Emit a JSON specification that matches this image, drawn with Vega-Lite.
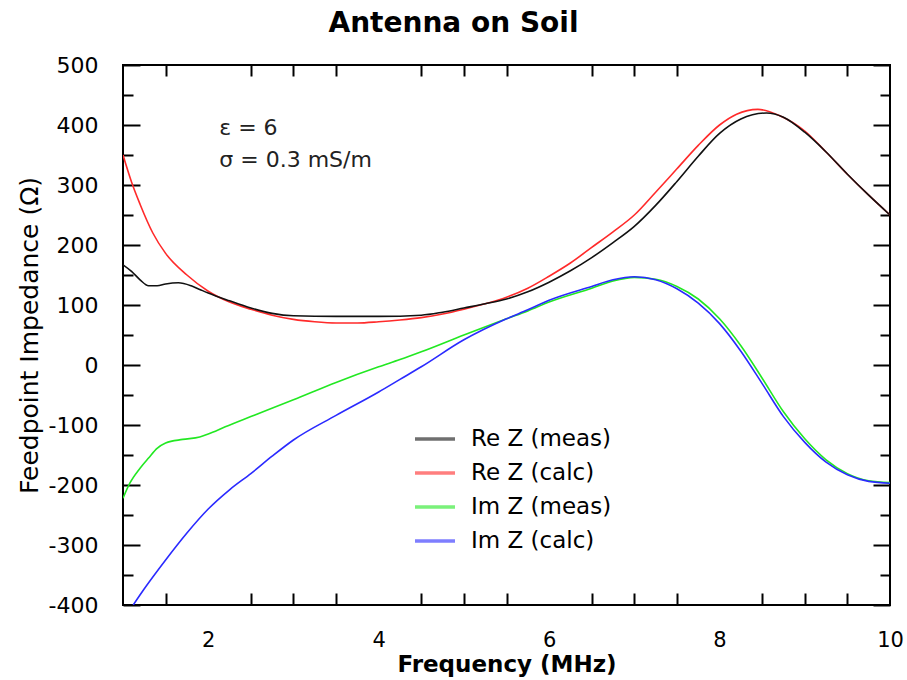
{
  "$schema": "https://vega.github.io/schema/vega-lite/v6.json",
  "autosize": {"type": "none"},
  "width": 767,
  "height": 540,
  "padding": {"left": 123, "top": 65, "right": 17, "bottom": 75},
  "title": {"text": "Antenna on Soil", "fontSize": 28, "fontWeight": "bold", "font": "DejaVu Sans", "offset": 16, "dx": -53, "color": "black"},
  "datasets": {
    "curves": [
      {"f": 1.0, "z": 350, "s": "Re Z (calc)"},
      {"f": 1.1, "z": 305, "s": "Re Z (calc)"},
      {"f": 1.2, "z": 268, "s": "Re Z (calc)"},
      {"f": 1.35, "z": 220, "s": "Re Z (calc)"},
      {"f": 1.5, "z": 186, "s": "Re Z (calc)"},
      {"f": 1.75, "z": 150, "s": "Re Z (calc)"},
      {"f": 2.0, "z": 123, "s": "Re Z (calc)"},
      {"f": 2.25, "z": 105, "s": "Re Z (calc)"},
      {"f": 2.5, "z": 93, "s": "Re Z (calc)"},
      {"f": 2.75, "z": 83, "s": "Re Z (calc)"},
      {"f": 3.0, "z": 76, "s": "Re Z (calc)"},
      {"f": 3.25, "z": 72, "s": "Re Z (calc)"},
      {"f": 3.5, "z": 70, "s": "Re Z (calc)"},
      {"f": 3.75, "z": 70, "s": "Re Z (calc)"},
      {"f": 4.0, "z": 72, "s": "Re Z (calc)"},
      {"f": 4.25, "z": 75, "s": "Re Z (calc)"},
      {"f": 4.5, "z": 79, "s": "Re Z (calc)"},
      {"f": 4.75, "z": 85, "s": "Re Z (calc)"},
      {"f": 5.0, "z": 93, "s": "Re Z (calc)"},
      {"f": 5.25, "z": 102, "s": "Re Z (calc)"},
      {"f": 5.5, "z": 113, "s": "Re Z (calc)"},
      {"f": 5.75, "z": 128, "s": "Re Z (calc)"},
      {"f": 6.0, "z": 148, "s": "Re Z (calc)"},
      {"f": 6.25, "z": 170, "s": "Re Z (calc)"},
      {"f": 6.5, "z": 196, "s": "Re Z (calc)"},
      {"f": 6.75, "z": 222, "s": "Re Z (calc)"},
      {"f": 7.0, "z": 250, "s": "Re Z (calc)"},
      {"f": 7.25, "z": 288, "s": "Re Z (calc)"},
      {"f": 7.5, "z": 327, "s": "Re Z (calc)"},
      {"f": 7.75, "z": 366, "s": "Re Z (calc)"},
      {"f": 8.0, "z": 400, "s": "Re Z (calc)"},
      {"f": 8.2, "z": 418, "s": "Re Z (calc)"},
      {"f": 8.45, "z": 426, "s": "Re Z (calc)"},
      {"f": 8.7, "z": 416, "s": "Re Z (calc)"},
      {"f": 9.0, "z": 390, "s": "Re Z (calc)"},
      {"f": 9.25, "z": 355, "s": "Re Z (calc)"},
      {"f": 9.5, "z": 318, "s": "Re Z (calc)"},
      {"f": 9.75, "z": 283, "s": "Re Z (calc)"},
      {"f": 10.0, "z": 250, "s": "Re Z (calc)"},

      {"f": 1.0, "z": 167, "s": "Re Z (meas)"},
      {"f": 1.1, "z": 156, "s": "Re Z (meas)"},
      {"f": 1.2, "z": 142, "s": "Re Z (meas)"},
      {"f": 1.3, "z": 132, "s": "Re Z (meas)"},
      {"f": 1.4, "z": 132, "s": "Re Z (meas)"},
      {"f": 1.5, "z": 135, "s": "Re Z (meas)"},
      {"f": 1.65, "z": 137, "s": "Re Z (meas)"},
      {"f": 1.8, "z": 132, "s": "Re Z (meas)"},
      {"f": 1.9, "z": 126, "s": "Re Z (meas)"},
      {"f": 2.0, "z": 120, "s": "Re Z (meas)"},
      {"f": 2.25, "z": 107, "s": "Re Z (meas)"},
      {"f": 2.5, "z": 95, "s": "Re Z (meas)"},
      {"f": 2.75, "z": 86, "s": "Re Z (meas)"},
      {"f": 3.0, "z": 82, "s": "Re Z (meas)"},
      {"f": 3.5, "z": 81, "s": "Re Z (meas)"},
      {"f": 4.0, "z": 81, "s": "Re Z (meas)"},
      {"f": 4.5, "z": 83, "s": "Re Z (meas)"},
      {"f": 4.75, "z": 88, "s": "Re Z (meas)"},
      {"f": 5.0, "z": 95, "s": "Re Z (meas)"},
      {"f": 5.25, "z": 102, "s": "Re Z (meas)"},
      {"f": 5.5, "z": 110, "s": "Re Z (meas)"},
      {"f": 5.75, "z": 122, "s": "Re Z (meas)"},
      {"f": 6.0, "z": 138, "s": "Re Z (meas)"},
      {"f": 6.25, "z": 157, "s": "Re Z (meas)"},
      {"f": 6.5, "z": 179, "s": "Re Z (meas)"},
      {"f": 6.75, "z": 204, "s": "Re Z (meas)"},
      {"f": 7.0, "z": 231, "s": "Re Z (meas)"},
      {"f": 7.25, "z": 266, "s": "Re Z (meas)"},
      {"f": 7.5, "z": 306, "s": "Re Z (meas)"},
      {"f": 7.75, "z": 348, "s": "Re Z (meas)"},
      {"f": 8.0, "z": 386, "s": "Re Z (meas)"},
      {"f": 8.25, "z": 410, "s": "Re Z (meas)"},
      {"f": 8.55, "z": 420, "s": "Re Z (meas)"},
      {"f": 8.75, "z": 413, "s": "Re Z (meas)"},
      {"f": 9.0, "z": 388, "s": "Re Z (meas)"},
      {"f": 9.25, "z": 355, "s": "Re Z (meas)"},
      {"f": 9.5, "z": 318, "s": "Re Z (meas)"},
      {"f": 9.75, "z": 283, "s": "Re Z (meas)"},
      {"f": 10.0, "z": 250, "s": "Re Z (meas)"},

      {"f": 1.0, "z": -222, "s": "Im Z (meas)"},
      {"f": 1.08, "z": -197, "s": "Im Z (meas)"},
      {"f": 1.2, "z": -172, "s": "Im Z (meas)"},
      {"f": 1.3, "z": -155, "s": "Im Z (meas)"},
      {"f": 1.4, "z": -139, "s": "Im Z (meas)"},
      {"f": 1.5, "z": -130, "s": "Im Z (meas)"},
      {"f": 1.7, "z": -124, "s": "Im Z (meas)"},
      {"f": 1.9, "z": -120, "s": "Im Z (meas)"},
      {"f": 2.0, "z": -115, "s": "Im Z (meas)"},
      {"f": 2.2, "z": -103, "s": "Im Z (meas)"},
      {"f": 2.5, "z": -86, "s": "Im Z (meas)"},
      {"f": 3.0, "z": -58, "s": "Im Z (meas)"},
      {"f": 3.5, "z": -29, "s": "Im Z (meas)"},
      {"f": 4.0, "z": -3, "s": "Im Z (meas)"},
      {"f": 4.25, "z": 9, "s": "Im Z (meas)"},
      {"f": 4.5, "z": 22, "s": "Im Z (meas)"},
      {"f": 5.0, "z": 50, "s": "Im Z (meas)"},
      {"f": 5.5, "z": 77, "s": "Im Z (meas)"},
      {"f": 5.75, "z": 90, "s": "Im Z (meas)"},
      {"f": 6.0, "z": 105, "s": "Im Z (meas)"},
      {"f": 6.5, "z": 128, "s": "Im Z (meas)"},
      {"f": 6.75, "z": 140, "s": "Im Z (meas)"},
      {"f": 7.0, "z": 146, "s": "Im Z (meas)"},
      {"f": 7.25, "z": 143, "s": "Im Z (meas)"},
      {"f": 7.5, "z": 131, "s": "Im Z (meas)"},
      {"f": 7.75, "z": 110, "s": "Im Z (meas)"},
      {"f": 8.0, "z": 77, "s": "Im Z (meas)"},
      {"f": 8.25, "z": 32, "s": "Im Z (meas)"},
      {"f": 8.5, "z": -22, "s": "Im Z (meas)"},
      {"f": 8.75, "z": -78, "s": "Im Z (meas)"},
      {"f": 9.0, "z": -123, "s": "Im Z (meas)"},
      {"f": 9.25, "z": -158, "s": "Im Z (meas)"},
      {"f": 9.5, "z": -181, "s": "Im Z (meas)"},
      {"f": 9.75, "z": -193, "s": "Im Z (meas)"},
      {"f": 10.0, "z": -196, "s": "Im Z (meas)"},

      {"f": 1.12, "z": -400, "s": "Im Z (calc)"},
      {"f": 1.25, "z": -373, "s": "Im Z (calc)"},
      {"f": 1.5, "z": -325, "s": "Im Z (calc)"},
      {"f": 1.75, "z": -280, "s": "Im Z (calc)"},
      {"f": 2.0, "z": -240, "s": "Im Z (calc)"},
      {"f": 2.25, "z": -208, "s": "Im Z (calc)"},
      {"f": 2.5, "z": -181, "s": "Im Z (calc)"},
      {"f": 2.75, "z": -152, "s": "Im Z (calc)"},
      {"f": 3.0, "z": -125, "s": "Im Z (calc)"},
      {"f": 3.5, "z": -84, "s": "Im Z (calc)"},
      {"f": 4.0, "z": -45, "s": "Im Z (calc)"},
      {"f": 4.25, "z": -24, "s": "Im Z (calc)"},
      {"f": 4.5, "z": -3, "s": "Im Z (calc)"},
      {"f": 5.0, "z": 42, "s": "Im Z (calc)"},
      {"f": 5.5, "z": 77, "s": "Im Z (calc)"},
      {"f": 5.75, "z": 92, "s": "Im Z (calc)"},
      {"f": 6.0, "z": 108, "s": "Im Z (calc)"},
      {"f": 6.5, "z": 131, "s": "Im Z (calc)"},
      {"f": 6.75, "z": 142, "s": "Im Z (calc)"},
      {"f": 7.0, "z": 147, "s": "Im Z (calc)"},
      {"f": 7.25, "z": 142, "s": "Im Z (calc)"},
      {"f": 7.5, "z": 127, "s": "Im Z (calc)"},
      {"f": 7.75, "z": 103, "s": "Im Z (calc)"},
      {"f": 8.0, "z": 69, "s": "Im Z (calc)"},
      {"f": 8.25, "z": 23, "s": "Im Z (calc)"},
      {"f": 8.5, "z": -31, "s": "Im Z (calc)"},
      {"f": 8.75, "z": -86, "s": "Im Z (calc)"},
      {"f": 9.0, "z": -129, "s": "Im Z (calc)"},
      {"f": 9.25, "z": -162, "s": "Im Z (calc)"},
      {"f": 9.5, "z": -183, "s": "Im Z (calc)"},
      {"f": 9.75, "z": -194, "s": "Im Z (calc)"},
      {"f": 10.0, "z": -197, "s": "Im Z (calc)"}
    ],
    "notes": [
      {"f": 2.13, "z": 395, "t": "ε = 6"},
      {"f": 2.13, "z": 342, "t": "σ = 0.3 mS/m"}
    ]
  },
  "layer": [
    {
      "data": {"name": "curves"},
      "mark": {"type": "line", "strokeWidth": 1.6, "interpolate": "monotone", "clip": true},
      "encoding": {
        "x": {
          "field": "f", "type": "quantitative",
          "scale": {"domain": [1, 10], "nice": false, "zero": false},
          "axis": {
            "orient": "bottom",
            "title": "Frequency (MHz)",
            "titleFontSize": 23, "titleFontWeight": "bold", "titleColor": "black", "titlePadding": 3,
            "values": [1.5, 2, 2.5, 3, 3.5, 4, 4.5, 5, 5.5, 6, 6.5, 7, 7.5, 8, 8.5, 9, 9.5, 10],
            "labelExpr": "datum.value % 2 === 0 ? '' + datum.value : ''",
            "labelFontSize": 21, "labelColor": "black", "labelFlush": false, "labelOverlap": false, "labelPadding": 36,
            "tickSize": -12, "tickWidth": 2, "tickColor": "black",
            "tickOpacity": {"condition": {"test": "datum.value % 2 === 0", "value": 0}, "value": 1},
            "grid": false, "domain": false
          }
        },
        "y": {
          "field": "z", "type": "quantitative",
          "scale": {"domain": [-400, 500], "nice": false, "zero": false},
          "axis": {
            "orient": "left",
            "title": "Feedpoint Impedance (Ω)",
            "titleFontSize": 25, "titleFontWeight": "normal", "titleColor": "black", "titlePadding": 6,
            "values": [-400, -350, -300, -250, -200, -150, -100, -50, 0, 50, 100, 150, 200, 250, 300, 350, 400, 450, 500],
            "labelExpr": "datum.value % 100 === 0 ? '' + datum.value : ''",
            "labelFontSize": 22, "labelColor": "black", "labelOverlap": false, "labelFlush": false, "labelPadding": 42,
            "tickSize": {"condition": {"test": "datum.value % 100 !== 0", "value": -10}, "value": -17},
            "tickWidth": 2, "tickColor": "black",
            "grid": false, "domain": false
          }
        },
        "color": {
          "field": "s", "type": "nominal",
          "scale": {
            "domain": ["Re Z (meas)", "Re Z (calc)", "Im Z (meas)", "Im Z (calc)"],
            "range": ["#111111", "#ff2a2a", "#22e822", "#2a2aff"]
          },
          "legend": {
            "orient": "none", "legendX": 290, "legendY": 352,
            "title": null,
            "symbolType": "stroke", "symbolStrokeWidth": 3.5, "symbolSize": 1600, "symbolOpacity": 0.6,
            "labelFontSize": 23, "labelColor": "black", "labelOffset": 14,
            "rowPadding": 0, "padding": 0
          }
        }
      }
    },
    {
      "data": {"name": "notes"},
      "mark": {"type": "text", "align": "left", "baseline": "middle", "fontSize": 22, "color": "#222222"},
      "encoding": {
        "x": {
          "field": "f", "type": "quantitative",
          "axis": {
            "orient": "top", "title": null, "labels": false,
            "values": [1.5, 2, 2.5, 3, 3.5, 4, 4.5, 5, 5.5, 6, 6.5, 7, 7.5, 8, 8.5, 9, 9.5, 10],
            "tickSize": -11, "tickWidth": 2, "tickColor": "black",
            "tickOpacity": {"condition": {"test": "datum.value % 2 === 0", "value": 0}, "value": 1},
            "grid": false, "domain": false
          }
        },
        "y": {
          "field": "z", "type": "quantitative",
          "axis": {
            "orient": "right", "title": null, "labels": false,
            "values": [-400, -350, -300, -250, -200, -150, -100, -50, 0, 50, 100, 150, 200, 250, 300, 350, 400, 450, 500],
            "tickSize": {"condition": {"test": "datum.value % 100 !== 0", "value": -10}, "value": -17},
            "tickWidth": 2, "tickColor": "black",
            "grid": false, "domain": false
          }
        },
        "text": {"field": "t", "type": "nominal"}
      }
    }
  ],
  "resolve": {"axis": {"x": "independent", "y": "independent"}},
  "config": {
    "font": "DejaVu Sans",
    "view": {"stroke": "black", "strokeWidth": 2},
    "background": "white"
  }
}
